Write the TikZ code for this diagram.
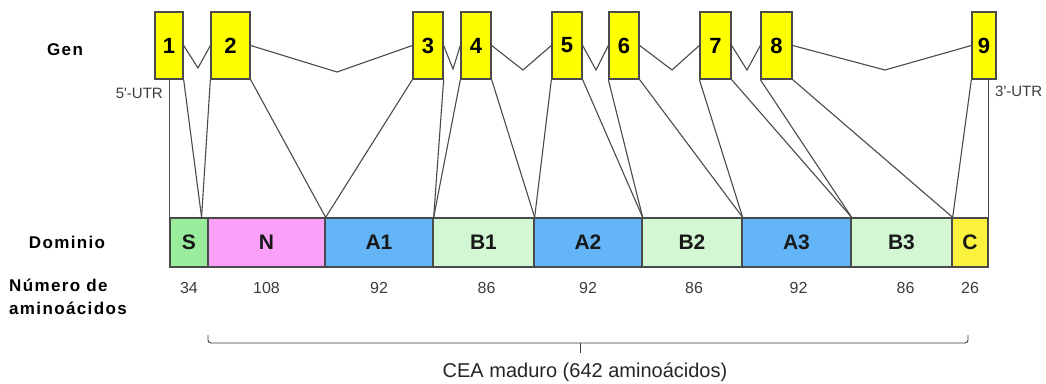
\documentclass[tikz,border=0pt]{standalone}
\usepackage{fontspec}
\setmainfont{Liberation Sans}[Ligatures=TeXOff]
\usetikzlibrary{calc}

\definecolor{exonfill}{HTML}{FFFF00}
\definecolor{edge}{HTML}{4A4A4A}
\definecolor{sigfill}{HTML}{98EC9C}
\definecolor{nfill}{HTML}{FBA0F8}
\definecolor{afill}{HTML}{63B5F8}
\definecolor{bfill}{HTML}{D2F7D2}
\definecolor{cfill}{HTML}{FAF23C}
\definecolor{numgray}{HTML}{3C3C3C}

\tikzset{
  exon/.style={draw=edge, line width=1.3bp, fill=exonfill, minimum height=67bp,
    inner sep=0pt, font=\fontsize{22bp}{22bp}\selectfont\bfseries},
  dom/.style={draw=edge, line width=1.3bp, minimum height=49bp, inner sep=0pt,
    font=\fontsize{21bp}{21bp}\selectfont\bfseries, text=black!90},
  link/.style={draw=edge, line width=1.1bp},
  count/.style={font=\fontsize{16bp}{16bp}\selectfont, text=numgray},
  rowlabel/.style={inner sep=0pt, font=\fontsize{17bp}{23bp}\selectfont\bfseries\addfontfeatures{LetterSpace=8}},
  utr/.style={inner sep=0pt, font=\fontsize{15bp}{15bp}\selectfont, text=numgray},
  bracket/.style={draw=numgray, line width=0.9bp, rounded corners=3bp},
  caption/.style={font=\fontsize{20bp}{20bp}\selectfont, text=black!85},
}

\begin{document}
\begin{tikzpicture}[x=1bp, y=-1bp]
\useasboundingbox (0,0) rectangle (1046,383);

% exons of the gene
\node[exon, minimum width=28bp] (e1) at (169,45.5) {1};
\node[exon, minimum width=39bp] (e2) at (230.5,45.5) {2};
\node[exon, minimum width=30bp] (e3) at (428,45.5) {3};
\node[exon, minimum width=30bp] (e4) at (476,45.5) {4};
\node[exon, minimum width=30bp] (e5) at (567,45.5) {5};
\node[exon, minimum width=30bp] (e6) at (624,45.5) {6};
\node[exon, minimum width=31bp] (e7) at (715.5,45.5) {7};
\node[exon, minimum width=31bp] (e8) at (776.5,45.5) {8};
\node[exon, minimum width=24bp] (e9) at (984,45.5) {9};

% introns
\coordinate (i12) at (198,68);
\coordinate (i23) at (337,72);
\coordinate (i34) at (453,69);
\coordinate (i45) at (523,70);
\coordinate (i56) at (596,70);
\coordinate (i67) at (672,70);
\coordinate (i78) at (747,70);
\coordinate (i89) at (885,70);
\draw[link] (e1.east) -- (i12) -- (e2.west);
\draw[link] (e2.east) -- (i23) -- (e3.west);
\draw[link] (e3.east) -- (i34) -- (e4.west);
\draw[link] (e4.east) -- (i45) -- (e5.west);
\draw[link] (e5.east) -- (i56) -- (e6.west);
\draw[link] (e6.east) -- (i67) -- (e7.west);
\draw[link] (e7.east) -- (i78) -- (e8.west);
\draw[link] (e8.east) -- (i89) -- (e9.west);

% protein domains
\node[dom, fill=sigfill, minimum width=38bp]  (S)  at (189,242.5)   {S};
\node[dom, fill=nfill,   minimum width=117bp] (N)  at (266.5,242.5) {N};
\node[dom, fill=afill,   minimum width=108bp] (A1) at (379,242.5)   {A1};
\node[dom, fill=bfill,   minimum width=101bp] (B1) at (483.5,242.5) {B1};
\node[dom, fill=afill,   minimum width=108bp] (A2) at (588,242.5)   {A2};
\node[dom, fill=bfill,   minimum width=100bp] (B2) at (692,242.5)   {B2};
\node[dom, fill=afill,   minimum width=109bp] (A3) at (796.5,242.5) {A3};
\node[dom, fill=bfill,   minimum width=101bp] (B3) at (901.5,242.5) {B3};
\node[dom, fill=cfill,   minimum width=36bp]  (C)  at (970,242.5)   {C};

% amino acid counts
\node[count] (nS)  at ($(S.south)+(0,20)$)  {34};
\node[count] (nN)  at ($(N.south)+(0,20)$)  {108};
\node[count] (nA1) at ($(A1.south)+(0,20)$) {92};
\node[count] (nB1) at ($(B1.south)+(3,20)$) {86};
\node[count] (nA2) at ($(A2.south)+(0,20)$) {92};
\node[count] (nB2) at ($(B2.south)+(2,20)$) {86};
\node[count] (nA3) at ($(A3.south)+(2,20)$) {92};
\node[count] (nB3) at ($(B3.south)+(4,20)$) {86};
\node[count] (nC)  at ($(C.south)+(0,20)$)  {26};

% exon-to-domain correspondence
\coordinate (sp) at ($(S.north west)!0.82!(S.north east)$);
\draw[link] (e1.south -| S.north west) -- (S.north west);
\draw[link] (e1.south east) -- (sp);
\draw[link] (e2.south west) -- (sp);
\draw[link] (e2.south east) -- (N.north east);
\draw[link] (e3.south west) -- (N.north east);
\draw[link] (e3.south east) -- (A1.north east);
\draw[link] (e4.south west) -- (A1.north east);
\draw[link] (e4.south east) -- (B1.north east);
\draw[link] (e5.south west) -- (B1.north east);
\draw[link] (e5.south east) -- (A2.north east);
\draw[link] (e6.south west) -- (A2.north east);
\draw[link] (e6.south east) -- (B2.north east);
\draw[link] (e7.south west) -- (B2.north east);
\draw[link] (e7.south east) -- (A3.north east);
\draw[link] (e8.south west) -- (A3.north east);
\draw[link] (e8.south east) -- (B3.north east);
\draw[link] (e9.south west) -- (B3.north east);
\draw[link] (e9.south -| C.north east) -- (C.north east);

% untranslated regions
\node[utr, anchor=east] (utr5) at (163,93) {5'-UTR};
\node[utr, anchor=west] (utr3) at (995,91) {3'-UTR};

% row labels
\node[rowlabel] (gen) at (65,50) {Gen};
\node[rowlabel] (dominio) at (67,242.5) {Dominio};
\node[rowlabel, align=left, anchor=west] (numaa) at (9,296.5) {Número de\\aminoácidos};

% mature protein bracket
\coordinate (bl) at (208,335);
\coordinate (br) at (968,335);
\coordinate (bm) at (580,343);
\coordinate (bt) at (580,353);
\draw[bracket] (bl) -- (bl |- bm) -- (br |- bm) -- (br);
\draw[bracket] (bm) -- (bt);
\node[caption] (cea) at (585,372) {CEA maduro (642 aminoácidos)};
\end{tikzpicture}
\end{document}
